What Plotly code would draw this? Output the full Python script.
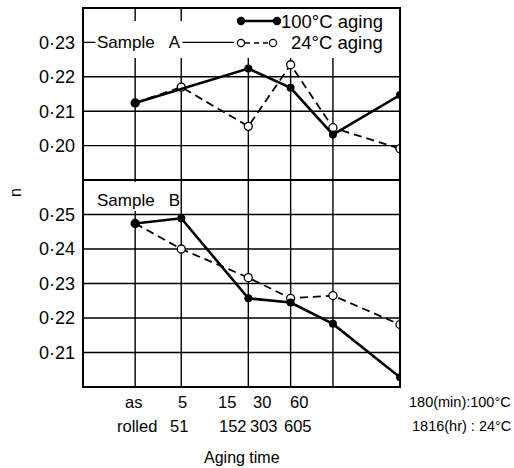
import math
import plotly.graph_objects as go

# ---------------- data ----------------
aging_min_100C = [0, 5, 15, 30, 60, 180]        # 0 = as rolled
aging_hr_24C = [0, 51, 152, 303, 605, 1816]

tick_row1 = ["as", "5", "15", "30", "60"]
tick_row2 = ["rolled", "51", "152", "303", "605"]
right_row1 = "180(min):100°C"
right_row2 = "1816(hr) : 24°C"

# Sample A (upper panel)
nA_100C = [0.2124, None, 0.2224, 0.2168, 0.2032, 0.2147]
nA_24C = [0.2124, 0.2170, 0.2056, 0.2235, 0.2052, 0.1991]
# Sample B (lower panel)
nB_100C = [0.2474, 0.2489, 0.2257, 0.2245, 0.2183, 0.2028]
nB_24C = [0.2474, 0.2400, 0.2317, 0.2257, 0.2265, 0.2181]

yticksA = [0.20, 0.21, 0.22, 0.23]
yticksB = [0.21, 0.22, 0.23, 0.24, 0.25]
rangeA = [0.19, 0.24]
rangeB = [0.20, 0.26]

# ---------------- layout constants ----------------
W, H = 514, 468
L, R, T, B = 83, 400, 8, 387
AS_ROLLED_POS = 2.35      # where "as rolled" sits on the log time axis
DIV_PY = 180              # pixel row of panel divider
FONT = "Liberation Sans"
NB = "\u00a0"
GRID = dict(color="black", width=1.4)


def px2x(px):
    return (px - L) / (R - L)


def py2y(py):
    return (B - py) / (B - T)


xpos = [AS_ROLLED_POS if t == 0 else t for t in aging_min_100C]
div = py2y(DIV_PY)
xmax_log = math.log10(aging_min_100C[-1])


def xv2paper(v):
    return math.log10(v) / xmax_log


def yA2paper(v):
    return div + (v - rangeA[0]) / (rangeA[1] - rangeA[0]) * (1 - div)


def yB2paper(v):
    return (v - rangeB[0]) / (rangeB[1] - rangeB[0]) * div


fig = go.Figure()

solid = dict(color="black", width=2.6)
dashed = dict(color="black", width=1.8, dash="8px,5px")
open_m = dict(symbol="circle", size=8, color="white", line=dict(color="black", width=1.3))
fill_m = dict(symbol="circle", size=8, color="black", line=dict(color="black", width=0))

# 24°C first so filled 100°C markers sit on top
fig.add_trace(go.Scatter(x=xpos, y=nA_24C, yaxis="y2", mode="lines+markers",
                         line=dashed, marker=open_m, name="24°C aging", showlegend=False))
fig.add_trace(go.Scatter(x=xpos, y=nA_100C, yaxis="y2", mode="lines+markers", connectgaps=True,
                         line=solid, marker=fill_m, name="100°C aging", showlegend=False))
fig.add_trace(go.Scatter(x=xpos, y=nB_24C, yaxis="y", mode="lines+markers",
                         line=dashed, marker=open_m, showlegend=False))
fig.add_trace(go.Scatter(x=xpos, y=nB_100C, yaxis="y", mode="lines+markers",
                         line=solid, marker=fill_m, showlegend=False))

noline = dict(showgrid=False, zeroline=False, showline=False)

fig.update_layout(
    width=W, height=H,
    margin=dict(l=L, r=W - R, t=T, b=H - B, pad=0),
    paper_bgcolor="white", plot_bgcolor="rgba(0,0,0,0)",
    font=dict(family=FONT, color="black", size=16),
    xaxis=dict(type="log", range=[0, xmax_log],
               tickvals=xpos[:-1], showticklabels=False, ticks="", **noline),
    yaxis=dict(domain=[0, div], range=rangeB, anchor="x",
               tickvals=yticksB, ticktext=[f"{v:.2f}".replace(".", "·") for v in yticksB],
               ticks="", ticklabelstandoff=7, tickfont=dict(size=18), **noline),
    yaxis2=dict(domain=[div, 1], range=rangeA, anchor="x",
                tickvals=yticksA, ticktext=[f"{v:.2f}".replace(".", "·") for v in yticksA],
                ticks="", ticklabelstandoff=7, tickfont=dict(size=18), **noline),
)

P = dict(xref="paper", yref="paper")
BELOW = dict(xref="paper", yref="paper", layer="below")
shapes = []
# grid (drawn as shapes so parts can be masked)
for v in xpos[:-1]:
    shapes.append(dict(type="line", x0=xv2paper(v), x1=xv2paper(v), y0=0, y1=1, line=GRID, **BELOW))
for v in yticksA:
    shapes.append(dict(type="line", x0=0, x1=1, y0=yA2paper(v), y1=yA2paper(v), line=GRID, **BELOW))
for v in yticksB:
    shapes.append(dict(type="line", x0=0, x1=1, y0=yB2paper(v), y1=yB2paper(v), line=GRID, **BELOW))
# blank band at top of upper panel (grid interrupted by labels / legend)
shapes.append(dict(type="rect", x0=0, x1=1, y0=py2y(58), y1=py2y(21),
                   fillcolor="white", line_width=0, **BELOW))
shapes.append(dict(type="rect", x0=px2x(230), x1=1, y0=py2y(58), y1=1,
                   fillcolor="white", line_width=0, **BELOW))
# 0.23 grid line segment visible through the label row
shapes.append(dict(type="line", x0=0, x1=px2x(234), y0=yA2paper(0.23), y1=yA2paper(0.23),
                   line=GRID, **BELOW))
# blank behind "Sample B"
shapes.append(dict(type="rect", x0=px2x(92), x1=px2x(155), y0=py2y(211), y1=py2y(182),
                   fillcolor="white", line_width=0, **BELOW))

# legend glyphs
ly1, ly2 = 21, 43
shapes.append(dict(type="line", x0=px2x(241), x1=px2x(277), y0=py2y(ly1), y1=py2y(ly1),
                   line=dict(color="black", width=2.6), **P))
shapes.append(dict(type="line", x0=px2x(245), x1=px2x(270), y0=py2y(ly2), y1=py2y(ly2),
                   line=dict(color="black", width=1.6, dash="5px,4px"), **P))
for cx, cy, filled in [(241, ly1, True), (277, ly1, True), (241, ly2, False), (273, ly2, False)]:
    shapes.append(dict(type="circle", xsizemode="pixel", ysizemode="pixel",
                       xanchor=px2x(cx), yanchor=py2y(cy), x0=-3.6, x1=3.6, y0=-3.6, y1=3.6,
                       fillcolor="black" if filled else "white",
                       line=dict(color="black", width=1.2), **P))

# frame and panel divider
shapes.append(dict(type="rect", x0=0, x1=1, y0=0, y1=1, line=dict(color="black", width=2), **P))
shapes.append(dict(type="line", x0=0, x1=1, y0=div, y1=div, line=dict(color="black", width=2), **P))
fig.update_layout(shapes=shapes)

ann = []


def txt(text, px, py, xanchor="center", size=16, bg=None, angle=0):
    d = dict(text=text, xref="paper", yref="paper", x=px2x(px), y=py2y(py),
             xanchor=xanchor, yanchor="middle", showarrow=False,
             font=dict(size=size, family=FONT, color="black"), textangle=angle)
    if bg:
        d.update(bgcolor=bg, borderpad=1)
    ann.append(d)


txt("Sample" + NB * 3 + "A", 95, 43, "left", 17, bg="white")
txt("Sample" + NB * 3 + "B", 95, 200, "left", 17)
txt("100°C aging", 385, 21, "right", 18.5)
txt("24°C aging", 385, 43, "right", 18.5)

row1_px = [133, 182, 227, 262, 299]
row2_px = [137, 179, 233, 264, 298]
for lab, p in zip(tick_row1, row1_px):
    txt(lab, p, 402, "center", 16.5)
for lab, p in zip(tick_row2, row2_px):
    txt(lab, p, 426, "center", 16.5)
txt(right_row1, 513, 402, "right", 14.5)
txt(right_row2, 513, 426, "right", 14.5)
txt("Aging time", 242, 457, "center", 16)
txt("n", 15, 193, "center", 16, angle=-90)

fig.update_layout(annotations=ann)
fig.write_html("out.html", config={"displayModeBar": False},
               post_script="document.body.style.margin='0';")
